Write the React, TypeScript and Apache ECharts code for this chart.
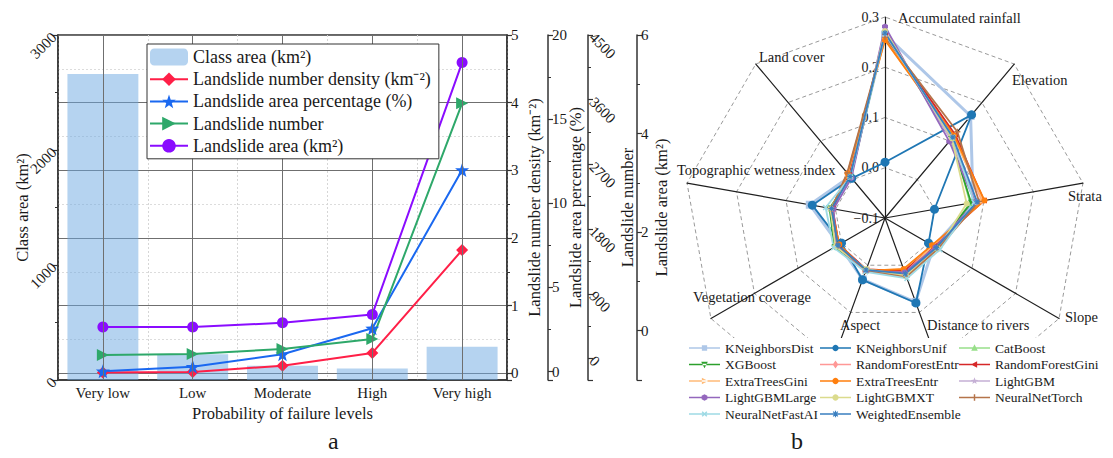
import React, { useEffect, useRef } from 'react';
import * as echarts from 'echarts';

// ---------------- Panel a data ----------------
const categories = ['Very low', 'Low', 'Moderate', 'High', 'Very high'];
const classArea = [2660, 223, 125, 101, 290];
const numberDensity = [0.01, 0.02, 0.11, 0.3, 1.82];
const areaPercentage = [0.02, 0.29, 1.03, 2.57, 11.98];
const landslideNumber = [47, 61, 131, 270, 3550];
const landslideArea = [0.075, 0.075, 0.16, 0.33, 5.44];

// ---------------- Panel b data ----------------
// clockwise from top
const radarIndicators = [
  'Accumulated rainfall', 'Elevation', 'Strata', 'Slope', 'Distance to rivers',
  'Aspect', 'Vegetation coverage', 'Topographic wetness index', 'Land cover',
];
const models = [
  'KNeighborsDist', 'KNeighborsUnif', 'CatBoost', 'XGBoost', 'RandomForestEntr',
  'RandomForestGini', 'ExtraTreesGini', 'ExtraTreesEntr', 'LightGBM', 'LightGBMLarge',
  'LightGBMXT', 'NeuralNetTorch', 'NeuralNetFastAI', 'WeightedEnsemble',
];
const modelValues: number[][] = [
  [0.265, 0.165, 0.078, 0.012, 0.078, 0.03, 0.006, 0.052, 0.008],
  [0.011, 0.168, 0.0, 0.0, 0.08, 0.031, 0.0, 0.047, 0.003],
  [0.27, 0.108, 0.072, 0.02, 0.02, 0.012, 0.012, 0.01, 0.008],
  [0.268, 0.105, 0.074, 0.018, 0.016, 0.01, 0.016, 0.012, 0.006],
  [0.262, 0.114, 0.096, 0.014, 0.012, 0.009, 0.006, 0.006, 0.012],
  [0.265, 0.117, 0.1, 0.012, 0.012, 0.009, 0.006, 0.006, 0.012],
  [0.256, 0.112, 0.098, 0.01, 0.016, 0.013, 0.008, 0.008, 0.015],
  [0.254, 0.114, 0.101, 0.008, 0.008, 0.012, 0.005, 0.008, 0.016],
  [0.275, 0.104, 0.084, 0.02, 0.02, 0.012, 0.012, 0.01, 0.006],
  [0.281, 0.099, 0.082, 0.016, 0.015, 0.012, 0.012, 0.004, 0.004],
  [0.272, 0.107, 0.065, 0.022, 0.022, 0.008, 0.014, 0.01, 0.008],
  [0.26, 0.124, 0.09, 0.022, 0.025, 0.012, 0.008, 0.008, 0.017],
  [0.266, 0.11, 0.08, 0.026, 0.028, 0.014, 0.018, 0.02, 0.007],
  [0.268, 0.11, 0.086, 0.018, 0.018, 0.01, 0.008, 0.008, 0.008],
];
const radarMin = -0.1;
const radarMax = 0.3;

// ---------------- styles / layout ----------------
const SERIF = 'Liberation Serif';
const TXT = '#1a1a1a';
const AX = '#333';

const modelColors = [
  '#aec7e8', '#1f77b4', '#98df8a', '#2ca02c', '#ff9896', '#d62728', '#ffbb78',
  '#ff7f0e', '#c5b0d5', '#9467bd', '#dbdb8d', '#b5744a', '#9edae5', '#3a7fc0',
];
const modelShapes = [
  'square', 'circle', 'triUp', 'triDown', 'diamond', 'triLeft', 'triRight',
  'circle', 'star', 'hexagon', 'circle', 'plus', 'cross', 'asterisk',
];
const legendColumns = [
  ['KNeighborsDist', 'XGBoost', 'ExtraTreesGini', 'LightGBMLarge', 'NeuralNetFastAI'],
  ['KNeighborsUnif', 'RandomForestEntr', 'ExtraTreesEntr', 'LightGBMXT', 'WeightedEnsemble'],
  ['CatBoost', 'RandomForestGini', 'LightGBM', 'NeuralNetTorch'],
];
const legendColumnLeft = [689, 820, 959];
const radarNameLayout: [number, number][] = [
  [898, 18], [1012, 80], [1068, 196], [1065, 317], [927, 325],
  [840, 325], [693, 297], [677, 170], [759, 57],
];

function shapePoints(shape: string): number[][][] {
  const circ = (r: number, n: number, off = 0) =>
    Array.from({ length: n }, (_, i) => {
      const a = off + (i * 2 * Math.PI) / n;
      return [r * Math.cos(a), r * Math.sin(a)];
    });
  const bar = (t: number, rot: number) => {
    const p = [[-t, -1], [t, -1], [t, -t], [1, -t], [1, t], [t, t], [t, 1], [-t, 1], [-t, t], [-1, t], [-1, -t], [-t, -t]];
    const c = Math.cos(rot), s = Math.sin(rot);
    return p.map(([x, y]) => [x * c - y * s, x * s + y * c]);
  };
  switch (shape) {
    case 'square': return [[[-0.8, -0.8], [0.8, -0.8], [0.8, 0.8], [-0.8, 0.8]]];
    case 'circle': return [circ(0.95, 20)];
    case 'triUp': return [[[0, -1.1], [1, 0.8], [-1, 0.8]]];
    case 'triDown': return [[[0, 1.1], [1, -0.8], [-1, -0.8]]];
    case 'diamond': return [[[0, -1.2], [0.85, 0], [0, 1.2], [-0.85, 0]]];
    case 'triLeft': return [[[-1.1, 0], [0.8, -1], [0.8, 1]]];
    case 'triRight': return [[[1.1, 0], [-0.8, -1], [-0.8, 1]]];
    case 'star': {
      const pts: number[][] = [];
      for (let i = 0; i < 10; i++) {
        const r = i % 2 === 0 ? 1.1 : 0.45;
        const a = -Math.PI / 2 + (i * Math.PI) / 5;
        pts.push([r * Math.cos(a), r * Math.sin(a)]);
      }
      return [pts];
    }
    case 'hexagon': return [circ(1, 6, Math.PI / 6)];
    case 'plus': return [bar(0.22, 0)];
    case 'cross': return [bar(0.22, Math.PI / 4)];
    case 'asterisk': return [bar(0.18, 0), bar(0.18, Math.PI / 4)];
    default: return [circ(1, 20)];
  }
}
function shapePath(shape: string, cx: number, cy: number, s: number) {
  return shapePoints(shape)
    .map((poly) => 'M' + poly.map(([x, y]) => (cx + x * s).toFixed(2) + ',' + (cy + y * s).toFixed(2)).join('L') + 'Z')
    .join(' ');
}
function legendIcon(shape: string) {
  return 'path://M0,0h0.05v0.05h-0.05Z M30.95,9.95h0.05v0.05h-0.05Z M0,4.3h31v1.4h-31Z ' + shapePath(shape, 15.5, 5, 3.3);
}

const starSymbol = 'path://' + shapePath('star', 10, 10, 9);
const rightTriSymbol = 'path://' + shapePath('triRight', 10, 10, 9);
const plain = (v: number) => String(v);

function buildOption(): any {
  const txt = { color: TXT, fontFamily: SERIF };
  const yBase = {
    type: 'value',
    nameLocation: 'middle',
    nameMoveOverlap: false,
    axisLine: { show: true, lineStyle: { color: AX, width: 1.5 } },
    axisTick: { show: true, inside: false, length: 5, lineStyle: { color: AX, width: 1.2 } },
    minorTick: { show: true, splitNumber: 2, length: 3, lineStyle: { color: AX, width: 1 } },
    splitLine: { show: false },
    axisLabel: { ...txt, fontSize: 15, margin: 4, showMinLabel: false, formatter: plain },
    nameTextStyle: { ...txt, fontSize: 16.5 },
  };

  const order = [0, 8, 7, 6, 5, 4, 3, 2, 1]; // ECharts radar runs counter-clockwise

  const radarSeries = models.map((m, i) => ({
    type: 'radar',
    name: m,
    z: i === 0 ? 2 : 3,
    symbol: 'path://' + shapePath(modelShapes[i], 10, 10, 9),
    symbolSize: i === 1 ? 9 : i === 0 ? 8 : 6,
    itemStyle: { color: modelColors[i] },
    lineStyle: { color: modelColors[i], width: i === 0 ? 3 : 1.8 },
    data: [{ name: m, value: order.map((k) => modelValues[i][k]) }],
  }));

  return {
    animation: false,
    backgroundColor: '#fff',
    textStyle: { fontFamily: SERIF },
    title: [
      { text: 'a', left: 323, top: 424, textStyle: { ...txt, fontSize: 24, fontWeight: 'normal' } },
      { text: 'b', left: 786, top: 424, textStyle: { ...txt, fontSize: 24, fontWeight: 'normal' } },
    ],
    grid: { left: 58, top: 35, width: 449, height: 345, show: true, borderColor: AX, borderWidth: 1.5, backgroundColor: 'transparent' },
    xAxis: {
      type: 'category',
      data: categories,
      name: 'Probability of failure levels',
      nameLocation: 'middle',
      nameGap: 24,
      nameTextStyle: { ...txt, fontSize: 16.5 },
      axisLine: { show: true, lineStyle: { color: AX, width: 1.5 } },
      axisTick: { show: false },
      axisLabel: { ...txt, fontSize: 15, margin: 5 },
      splitLine: { show: true, lineStyle: { color: '#d6d6d6', type: [2, 2], width: 1 } },
    },
    yAxis: [
      {
        ...yBase, position: 'left', min: 0, max: 3000, interval: 1000,
        name: 'Class area (km²)', nameGap: 27,
        axisLabel: { ...yBase.axisLabel, rotate: 45, showMinLabel: true },
      },
      {
        ...yBase, position: 'right', offset: 0, min: -0.1, max: 5, minInterval: 1, maxInterval: 1,
        name: 'Landslide number density (km⁻²)', nameGap: 19,
        splitLine: { show: true, lineStyle: { color: '#6f6f6f', width: 1 } },
        minorSplitLine: { show: true, lineStyle: { color: '#dcdcdc', type: [2, 2], width: 1 } },
      },
      {
        ...yBase, position: 'right', offset: 41, min: -0.5, max: 20, minInterval: 5, maxInterval: 5,
        name: 'Landslide area percentage (%)', nameGap: 19,
      },
      {
        ...yBase, position: 'right', offset: 81, min: -300, max: 4500, minInterval: 900, maxInterval: 900,
        name: 'Landslide number', nameGap: 31,
        axisLabel: { ...yBase.axisLabel, rotate: -45 },
      },
      {
        ...yBase, position: 'right', offset: 130, min: -1, max: 6, minInterval: 2, maxInterval: 2,
        name: 'Landslide area (km²)', nameGap: 16,
      },
    ],
    radar: {
      center: [885, 218],
      radius: 201,
      startAngle: 90,
      splitNumber: 4,
      shape: 'polygon',
      axisName: { show: false },
      axisLine: { lineStyle: { color: '#1f1f1f', width: 1.2 } },
      splitLine: { lineStyle: { color: '#9a9a9a', type: [4, 3], width: 1 } },
      splitArea: { show: false },
      axisTick: { show: false },
      axisLabel: { show: false },
      indicator: order.map((k, i) => ({
        name: radarIndicators[k],
        min: radarMin,
        max: radarMax,
        ...(i === 0
          ? {
              axisLabel: {
                show: true, ...txt, fontSize: 14, margin: 6,
                formatter: (v: number) => (v < 0 ? '−' : '') + Math.abs(v).toFixed(1),
              },
            }
          : {}),
      })),
    },
    legend: [
      {
        left: 147, top: 44, orient: 'vertical', z: 20,
        backgroundColor: '#fff', borderColor: AX, borderWidth: 1,
        padding: [4, 8, 4, 2], itemWidth: 38, itemHeight: 17, itemGap: 4.2,
        textStyle: { color: TXT, fontFamily: SERIF, fontSize: 18 },
        data: ['Class area (km²)', 'Landslide number density (km⁻²)', 'Landslide area percentage (%)', 'Landslide number', 'Landslide area (km²)'],
      },
      ...legendColumns.map((col, ci) => ({
        left: legendColumnLeft[ci], top: 341, orient: 'vertical', z: 100,
        padding: 0, itemWidth: 31, itemHeight: 10, itemGap: 2.5,
        textStyle: { ...txt, fontSize: 13.5 },
        data: col.map((name) => ({ name, icon: legendIcon(modelShapes[models.indexOf(name)]) })),
      })),
    ],
    graphic: [
      { type: 'rect', z: 50, silent: true, shape: { x: 680, y: 338, width: 433, height: 90 }, style: { fill: '#fff' } },
      ...radarIndicators.map((name, i) => ({
        type: 'text', z: 60, silent: true,
        x: radarNameLayout[i][0], y: radarNameLayout[i][1],
        style: { text: name, fill: TXT, font: `14.5px "${SERIF}"`, textAlign: 'left', textVerticalAlign: 'middle', verticalAlign: 'middle' },
      })),
    ],
    series: [
      {
        name: 'Class area (km²)', type: 'bar', yAxisIndex: 0, data: classArea, barWidth: '79%',
        itemStyle: { color: 'rgba(108,168,225,0.5)' }, z: 1,
        markLine: {
          silent: true, symbol: 'none', label: { show: false },
          lineStyle: { color: '#6f6f6f', type: 'solid', width: 1 },
          data: categories.map((c) => ({ xAxis: c })),
        },
      },
      {
        name: 'Landslide number density (km⁻²)', type: 'line', yAxisIndex: 1, data: numberDensity,
        symbol: 'diamond', symbolSize: 12, itemStyle: { color: '#ff1f47' }, lineStyle: { color: '#ff1f47', width: 2 },
      },
      {
        name: 'Landslide area percentage (%)', type: 'line', yAxisIndex: 2, data: areaPercentage,
        symbol: starSymbol, symbolSize: 14, itemStyle: { color: '#1a68f0' }, lineStyle: { color: '#1a68f0', width: 2 },
      },
      {
        name: 'Landslide number', type: 'line', yAxisIndex: 3, data: landslideNumber,
        symbol: rightTriSymbol, symbolSize: 12, itemStyle: { color: '#2ea86a' }, lineStyle: { color: '#2ea86a', width: 2 },
      },
      {
        name: 'Landslide area (km²)', type: 'line', yAxisIndex: 4, data: landslideArea,
        symbol: 'circle', symbolSize: 11, itemStyle: { color: '#8a0cff' }, lineStyle: { color: '#8a0cff', width: 2 },
      },
      ...radarSeries,
    ],
  };
}

export default function App() {
  const ref = useRef<HTMLDivElement>(null);
  useEffect(() => {
    const chart = echarts.init(ref.current!, null, { renderer: 'svg' });
    chart.setOption(buildOption());
    return () => chart.dispose();
  }, []);
  return (
    <div
      ref={ref}
      style={{ position: 'fixed', left: 0, top: 0, width: 1113, height: 458, background: '#fff' }}
    />
  );
}
